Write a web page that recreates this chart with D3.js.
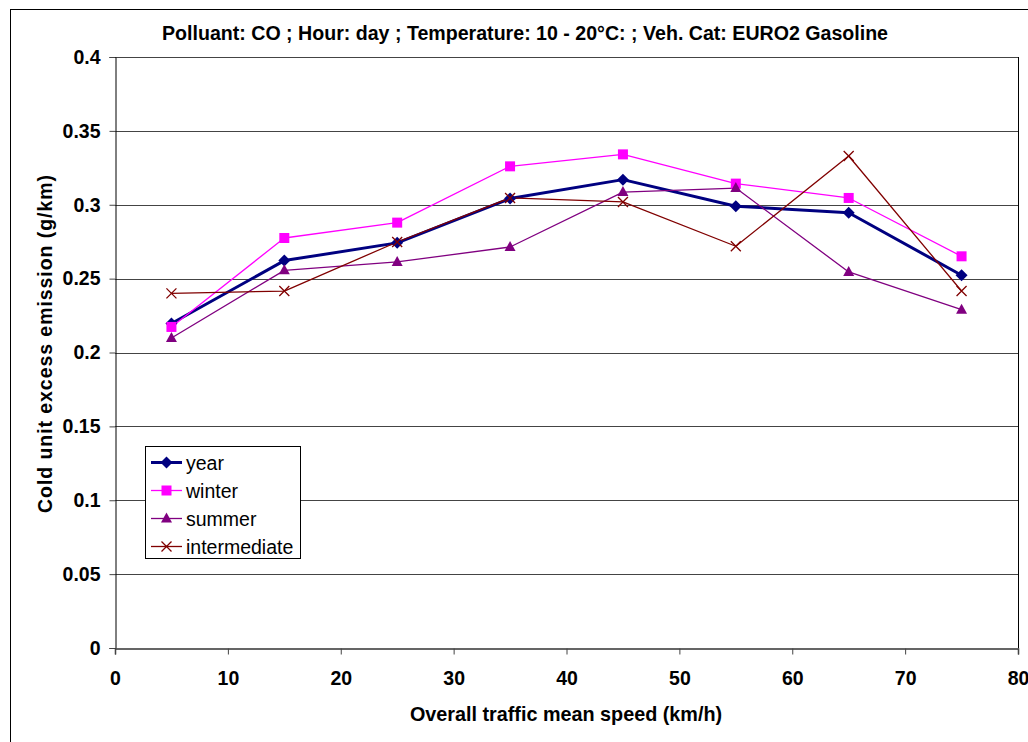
<!DOCTYPE html>
<html><head><meta charset="utf-8">
<script src="https://cdn.jsdelivr.net/npm/d3@7"></script>
<style>body{margin:0;background:#fff}svg{display:block;font-family:"Liberation Sans",Arial,sans-serif}</style>
</head><body>
<svg id="c" width="1028" height="742"></svg>
<script>
const speeds = [5, 15, 25, 35, 45, 55, 65, 75];
const year = [0.2196, 0.2622, 0.2742, 0.3042, 0.3170, 0.2990, 0.2946, 0.2523];
const winter = [0.2173, 0.2775, 0.2879, 0.3260, 0.3341, 0.3143, 0.3046, 0.2651];
const summer = [0.2098, 0.2556, 0.2613, 0.2714, 0.3086, 0.3113, 0.2545, 0.2290];
const intermediate = [0.2400, 0.2416, 0.2748, 0.3046, 0.3019, 0.2719, 0.3330, 0.2416];
const xTicks = [0, 10, 20, 30, 40, 50, 60, 70, 80];
const yTicks = [0, 0.05, 0.1, 0.15, 0.2, 0.25, 0.3, 0.35, 0.4];
const seriesNames = ["year", "winter", "summer", "intermediate"];
const titleText = "Polluant: CO ; Hour: day ; Temperature: 10 - 20°C: ; Veh. Cat: EURO2 Gasoline";

const series = [
  {name: "year", values: year, color: "#000080", width: 3, marker: "diamond"},
  {name: "winter", values: winter, color: "#FF00FF", width: 1.3, marker: "square"},
  {name: "summer", values: summer, color: "#800080", width: 1.3, marker: "triangle"},
  {name: "intermediate", values: intermediate, color: "#800000", width: 1.3, marker: "x"}
];

const svg = d3.select("#c");
const L = 115, R = 1018, T = 57, B = 648;
const x = d3.scaleLinear().domain([0, 80]).range([L, R]);
const y = d3.scaleLinear().domain([0, 0.4]).range([B, T]);

svg.append("rect").attr("x", 10.5).attr("y", 9.5).attr("width", 1030).attr("height", 740)
  .attr("fill", "none").attr("stroke", "#000").attr("stroke-width", 1);

svg.append("g").selectAll("line").data(yTicks.filter(d => d > 0)).join("line")
  .attr("x1", L).attr("x2", R).attr("y1", d => Math.round(y(d)) + 0.5).attr("y2", d => Math.round(y(d)) + 0.5)
  .attr("stroke", "#444").attr("stroke-width", 1);

svg.append("line").attr("x1", R + 0.5).attr("x2", R + 0.5).attr("y1", T).attr("y2", B).attr("stroke", "#000");

const yAxis = svg.append("g").attr("transform", `translate(${L + 0.5},0)`)
  .call(d3.axisLeft(y).tickValues(yTicks).tickSize(6).tickPadding(9).tickFormat(d => String(+d.toFixed(2))));
const xAxis = svg.append("g").attr("transform", `translate(0,${B + 0.5})`)
  .call(d3.axisBottom(x).tickValues(xTicks).tickSize(6).tickPadding(17).tickFormat(d3.format("d")));
[yAxis, xAxis].forEach(g => {
  g.select(".domain").attr("stroke", "#000").attr("stroke-width", 1);
  g.selectAll(".tick line").attr("stroke", "#444");
  g.selectAll("text").attr("font-size", 19.5).attr("font-weight", "bold").attr("fill", "#000")
    .attr("font-family", "'Liberation Sans', Arial, sans-serif");
});
xAxis.select(".domain").attr("stroke", "#333").attr("stroke-width", 1.5);

svg.append("text").attr("x", 525).attr("y", 40).attr("text-anchor", "middle")
  .attr("font-size", 19.6).attr("font-weight", "bold").text(titleText);
svg.append("text").attr("x", 566).attr("y", 721).attr("text-anchor", "middle")
  .attr("font-size", 19.8).attr("font-weight", "bold").text("Overall traffic mean speed (km/h)");
svg.append("text").attr("transform", `translate(52,344) rotate(-90)`).attr("text-anchor", "middle")
  .attr("font-size", 19.5).attr("font-weight", "bold")
  .attr("textLength", 338).attr("lengthAdjust", "spacing").text("Cold unit excess emission (g/km)");

function drawMarker(g, type, color, cx, cy) {
  if (type === "diamond") {
    g.append("path").attr("d", `M${cx},${cy - 6}L${cx + 6},${cy}L${cx},${cy + 6}L${cx - 6},${cy}Z`).attr("fill", color);
  } else if (type === "square") {
    g.append("rect").attr("x", cx - 5).attr("y", cy - 5).attr("width", 10).attr("height", 10).attr("fill", color);
  } else if (type === "triangle") {
    g.append("path").attr("d", `M${cx},${cy - 6}L${cx + 5.5},${cy + 4}L${cx - 5.5},${cy + 4}Z`).attr("fill", color);
  } else {
    g.append("path").attr("d", `M${cx - 5},${cy - 5}L${cx + 5},${cy + 5}M${cx - 5},${cy + 5}L${cx + 5},${cy - 5}`)
      .attr("stroke", color).attr("stroke-width", 1.3).attr("fill", "none");
  }
}

const line = d3.line().x((d, i) => x(speeds[i])).y(d => y(d));
series.forEach(s => {
  svg.append("path").datum(s.values).attr("d", line).attr("fill", "none")
    .attr("stroke", s.color).attr("stroke-width", s.width).attr("stroke-linejoin", "round");
});
series.forEach(s => {
  const g = svg.append("g");
  s.values.forEach((v, i) => drawMarker(g, s.marker, s.color, x(speeds[i]), y(v)));
});

const lg = svg.append("g");
lg.append("rect").attr("x", 145.5).attr("y", 446.5).attr("width", 155).attr("height", 112)
  .attr("fill", "#fff").attr("stroke", "#000").attr("stroke-width", 1);
series.forEach((s, i) => {
  const cy = 462.5 + i * 28;
  lg.append("line").attr("x1", 151).attr("x2", 182).attr("y1", cy).attr("y2", cy)
    .attr("stroke", s.color).attr("stroke-width", s.width);
  drawMarker(lg, s.marker, s.color, 166.5, cy);
  lg.append("text").attr("x", 186).attr("y", cy + 7).attr("font-size", 19.5).text(seriesNames[i]);
});
</script>
</body></html>
